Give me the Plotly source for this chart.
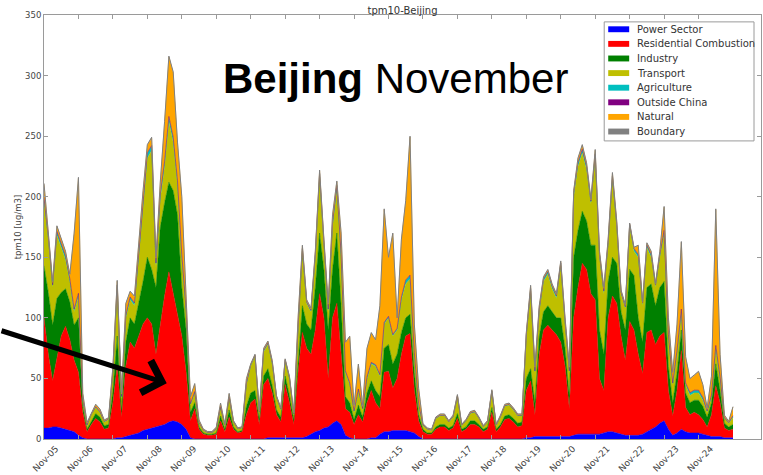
import pandas as pd
import plotly.graph_objects as go

# 3-hourly PM10 source contributions, Beijing, 5-25 November
times = pd.date_range("2015-11-05 00:00", periods=161, freq="3h")

power_sector = [
    9, 9, 10, 10, 9, 8, 7, 6,
    3, 1, 0, 0, 0, 0, 0, 0,
    0, 1, 1, 2, 3, 4, 5, 7,
    8, 9, 10, 11, 12, 14, 15, 14,
    12, 8, 1, 0, 0, 0, 0, 0,
    0, 0, 0, 0, 0, 0, 0, 0,
    0, 0, 0, 0, 1, 1, 1, 1,
    1, 1, 1, 1, 1, 2, 4, 6,
    7, 9, 10, 13, 15, 12, 3, 1,
    0, 0, 0, 0, 1, 1, 4, 6,
    6, 7, 7, 7, 7, 6, 5, 2,
    0, 0, 0, 0, 0, 0, 0, 0,
    0, 0, 0, 0, 0, 0, 0, 0,
    0, 0, 0, 0, 0, 0, 0, 0,
    1, 1, 2, 2, 2, 2, 2, 2,
    2, 2, 2, 3, 4, 4, 4, 4,
    4, 4, 5, 6, 6, 5, 4, 3,
    3, 3, 3, 4, 6, 8, 10, 13,
    15, 8, 3, 5, 8, 6, 5, 5,
    5, 4, 3, 2, 2, 2, 1, 1,
    1,
]
residential = [
    91, 61, 38, 55, 76, 85, 75, 59,
    52, 21, 6, 12, 17, 14, 8, 9,
    30, 59, 17, 58, 77, 71, 80, 88,
    92, 86, 60, 84, 106, 124, 105, 86,
    73, 47, 14, 25, 8, 4, 3, 3,
    4, 15, 6, 18, 8, 5, 6, 20,
    30, 33, 12, 45, 49, 37, 19, 13,
    44, 29, 11, 54, 87, 73, 66, 84,
    113, 91, 40, 87, 97, 58, 22, 21,
    12, 20, 14, 30, 39, 29, 21, 49,
    50, 35, 43, 63, 78, 81, 35, 13,
    6, 4, 4, 8, 10, 10, 7, 9,
    17, 6, 8, 12, 12, 10, 6, 8,
    22, 6, 10, 16, 17, 14, 10, 11,
    39, 47, 18, 68, 88, 92, 88, 84,
    78, 58, 23, 97, 121, 141, 136, 116,
    111, 46, 35, 94, 112, 107, 81, 62,
    94, 87, 67, 50, 82, 82, 68, 72,
    73, 32, 16, 35, 65, 20, 15, 17,
    15, 12, 7, 18, 42, 28, 8, 6,
    7,
]
industry = [
    43, 51, 46, 51, 36, 31, 31, 29,
    45, 5, 2, 3, 4, 4, 3, 3,
    10, 25, 6, 20, 20, 20, 27, 35,
    50, 45, 55, 80, 77, 74, 85, 85,
    40, 35, 7, 5, 2, 1, 1, 1,
    1, 4, 2, 6, 2, 1, 1, 7,
    8, 7, 4, 7, 8, 6, 4, 4,
    7, 6, 4, 10, 22, 20, 20, 35,
    50, 40, 40, 40, 58, 40, 10, 8,
    4, 8, 4, 8, 8, 10, 10, 20,
    22, 20, 20, 18, 15, 16, 15, 5,
    2, 1, 1, 2, 2, 2, 2, 2,
    4, 2, 2, 3, 3, 2, 2, 2,
    4, 2, 2, 3, 3, 3, 3, 3,
    10, 10, 10, 15, 15, 16, 15, 14,
    20, 15, 10, 50, 47, 43, 40, 40,
    45, 40, 30, 30, 32, 33, 20, 25,
    43, 45, 30, 26, 37, 38, 32, 40,
    42, 20, 11, 15, 17, 12, 10, 10,
    12, 11, 8, 10, 18, 10, 4, 3,
    4,
]
transport = [
    54, 44, 31, 52, 37, 24, 17, 11,
    18, 5, 3, 5, 5, 4, 3, 4,
    15, 40, 10, 20, 15, 15, 38, 60,
    82, 98, 17, 23, 30, 50, 40, 25,
    25, 15, 6, 8, 3, 2, 1, 1,
    3, 7, 3, 10, 4, 2, 2, 18,
    22, 28, 6, 20, 20, 18, 10, 6,
    12, 14, 4, 25, 45, 17, 15, 25,
    46, 20, 15, 35, 36, 40, 20, 15,
    6, 12, 6, 12, 14, 20, 17, 20,
    22, 23, 20, 27, 28, 29, 15, 8,
    3, 3, 2, 7, 7, 7, 5, 7,
    14, 3, 5, 6, 7, 5, 2, 4,
    13, 3, 6, 8, 8, 7, 6, 5,
    35, 64, 25, 20, 25, 26, 19, 16,
    43, 20, 20, 50, 53, 48, 42, 34,
    72, 60, 50, 30, 64, 30, 15, 18,
    35, 20, 50, 30, 33, 22, 15, 25,
    40, 25, 15, 17, 15, 7, 6, 6,
    6, 5, 4, 5, 13, 10, 4, 3,
    6,
]
agriculture = [
    2, 2, 2, 3, 3, 3, 2, 2,
    2, 1, 0.5, 0.5, 0.5, 0.5, 0.5, 0.5,
    1, 2, 1, 2, 2, 2, 3, 4,
    4, 4, 3, 4, 4, 4, 4, 3,
    2, 2, 1, 1, 0.5, 0.3, 0.3, 0.3,
    0.5, 0.5, 0.3, 0.5, 0.3, 0.3, 0.3, 1,
    1, 1, 0.5, 1, 1, 1, 0.5, 0.5,
    1, 0.5, 0.5, 2, 2, 1, 1, 2,
    3, 2, 2, 3, 3, 2, 1, 1,
    1, 1, 1, 1, 1, 1, 1, 1,
    1, 1, 1, 2, 3, 3, 1, 1,
    0.5, 0.3, 0.3, 0.3, 0.5, 0.5, 0.3, 0.5,
    0.5, 0.3, 0.3, 0.5, 0.5, 0.3, 0.3, 0.3,
    0.5, 0.3, 0.5, 0.5, 0.5, 0.5, 0.5, 0.5,
    1, 2, 1, 2, 2, 2, 2, 2,
    2, 2, 1, 3, 3, 3, 3, 2,
    3, 2, 2, 2, 3, 2, 1, 1,
    2, 2, 2, 2, 2, 2, 2, 2,
    2, 1, 1, 1, 2, 1, 2, 2,
    2, 2, 1, 1, 2, 1, 0.5, 0.5,
    1,
]
outside_china = [
    0.3, 0.3, 0.3, 0.3, 0.3, 0.3, 0.3, 0.3,
    0.3, 0.2, 0.2, 0.2, 0.2, 0.2, 0.2, 0.2,
    0.2, 0.3, 0.2, 0.3, 0.3, 0.3, 0.3, 0.3,
    0.3, 0.3, 0.3, 0.3, 0.3, 0.3, 0.3, 0.3,
    0.3, 0.3, 0.2, 0.2, 0.2, 0.2, 0.2, 0.2,
    0.2, 0.2, 0.2, 0.2, 0.2, 0.2, 0.2, 0.2,
    0.2, 0.2, 0.2, 0.3, 0.3, 0.3, 0.2, 0.2,
    0.3, 0.2, 0.2, 0.3, 0.3, 0.3, 0.3, 0.3,
    0.3, 0.3, 0.3, 0.3, 0.3, 0.3, 0.3, 0.3,
    0.2, 0.3, 0.2, 0.3, 0.3, 0.3, 0.3, 0.3,
    0.3, 0.3, 0.3, 0.3, 0.3, 0.3, 0.3, 0.2,
    0.2, 0.2, 0.2, 0.2, 0.2, 0.2, 0.2, 0.2,
    0.2, 0.2, 0.2, 0.2, 0.2, 0.2, 0.2, 0.2,
    0.2, 0.2, 0.2, 0.2, 0.2, 0.2, 0.2, 0.2,
    0.3, 0.3, 0.3, 0.3, 0.3, 0.3, 0.3, 0.3,
    0.3, 0.3, 0.3, 0.3, 0.3, 0.3, 0.3, 0.3,
    0.3, 0.3, 0.3, 0.3, 0.3, 0.3, 0.3, 0.3,
    0.3, 0.3, 0.3, 0.3, 0.3, 0.3, 0.3, 0.3,
    0.3, 0.3, 0.3, 0.3, 0.3, 0.3, 0.3, 0.3,
    0.3, 0.3, 0.2, 0.3, 0.3, 0.3, 0.2, 0.2,
    0.2,
]
natural = [
    11, 4, 2, 4, 3, 3, 3, 62,
    95, 4, 1.5, 0.5, 1.5, 1.5, 0.5, 0.5,
    3, 3, 2, 9, 4, 5, 11, 10,
    6, 6, 4, 9, 32, 49, 53, 31,
    47, 12, 5, 6, 1.5, 0.2, 0.2, 0.2,
    0.5, 2.5, 0.2, 2.5, 0.2, 0.2, 0.2, 3,
    0.2, 0.2, 0.5, 1, 1, 1, 0.5, 0.5,
    0.3, 0.5, 0.5, 7, 2, 1, 1, 2,
    2, 2, 4, 6, 3, 17, 23, 38,
    4, 20, 2, 23, 24, 20, 56, 93,
    48, 83, 8, 47, 65, 114, 23, 12,
    0.5, 0.2, 0.2, 0.2, 0.5, 0.5, 0.2, 0.5,
    0.5, 0.2, 0.2, 0.5, 0.5, 0.2, 0.2, 0.2,
    0.5, 0.2, 0.5, 0.5, 0.5, 0.5, 0.5, 0.5,
    1, 2, 3, 2, 1, 1, 1, 1,
    1, 2, 3, 1, 3, 3, 2, 1,
    3, 2, 2, 2, 2, 2, 1, 1,
    0.3, 0.3, 7, 0.3, 1, 2, 0.3, 2,
    19, 13, 8, 21, 55, 21, 11, 12,
    15, 10, 2, 15, 112, 18, 1.5, 0.5,
    7,
]
boundary = [
    0.7, 0.7, 0.7, 0.7, 0.7, 0.7, 0.7, 0.7,
    0.7, 0.6, 0.5, 0.5, 0.5, 0.5, 0.5, 0.5,
    0.5, 0.7, 0.6, 0.7, 0.7, 0.7, 0.7, 0.7,
    0.8, 0.8, 0.7, 0.8, 0.8, 0.8, 0.8, 0.8,
    0.7, 0.7, 0.6, 0.6, 0.5, 0.5, 0.5, 0.5,
    0.5, 0.5, 0.5, 0.5, 0.5, 0.5, 0.5, 0.6,
    0.6, 0.6, 0.5, 0.6, 0.6, 0.6, 0.5, 0.5,
    0.6, 0.5, 0.5, 0.7, 0.7, 0.7, 0.7, 0.7,
    0.7, 0.7, 0.7, 0.7, 0.7, 0.7, 0.6, 0.6,
    0.5, 0.6, 0.5, 0.6, 0.6, 0.6, 0.7, 0.7,
    0.7, 0.7, 0.7, 0.7, 0.7, 0.7, 0.6, 0.6,
    0.5, 0.5, 0.5, 0.5, 0.5, 0.5, 0.5, 0.5,
    0.5, 0.5, 0.5, 0.5, 0.5, 0.5, 0.5, 0.5,
    0.5, 0.5, 0.5, 0.5, 0.5, 0.5, 0.5, 0.5,
    0.6, 0.6, 0.6, 0.7, 0.7, 0.7, 0.7, 0.7,
    0.7, 0.7, 0.6, 0.7, 0.7, 0.7, 0.7, 0.7,
    0.7, 0.7, 0.7, 0.7, 0.7, 0.7, 0.7, 0.7,
    0.7, 0.7, 0.7, 0.7, 0.7, 0.7, 0.7, 0.7,
    0.7, 0.7, 0.6, 0.6, 0.7, 0.6, 0.6, 0.6,
    0.6, 0.6, 0.5, 0.6, 0.7, 0.6, 0.5, 0.5,
    0.5,
]

tick_days = pd.date_range("2015-11-05", "2015-11-24", freq="D")
tick_labels = [d.strftime("%b-%d") for d in tick_days]

series = [
    ("Power Sector", power_sector, "#0000ff"),
    ("Residential Combustion", residential, "#ff0000"),
    ("Industry", industry, "#008000"),
    ("Transport", transport, "#bfbf00"),
    ("Agriculture", agriculture, "#00bfbf"),
    ("Outside China", outside_china, "#800080"),
    ("Natural", natural, "#ffa500"),
    ("Boundary", boundary, "#808080"),
]

fig = go.Figure()
for name, vals, color in series:
    fig.add_trace(go.Scatter(
        x=times, y=vals, name=name, mode="lines", stackgroup="one",
        line=dict(color=color, width=1 if name == "Boundary" else 0.5),
        fillcolor=color, showlegend=False,
    ))

axis_font = dict(family="DejaVu Sans", size=8.5, color="#444")
frame = dict(showline=True, linecolor="#9a9a9a", linewidth=1, mirror="ticks",
             ticks="inside", ticklen=4, tickcolor="#9a9a9a", showgrid=False,
             zeroline=False)

fig.update_xaxes(
    type="date", range=["2015-11-05 00:00", "2015-11-25 19:30"],
    tickvals=tick_days, ticktext=tick_labels, tickangle=-45,
    ticklabelshift=12, tickfont=dict(family="DejaVu Sans", size=9, color="#444"),
    **frame,
)
fig.update_yaxes(
    range=[0, 350], tickvals=[0, 50, 100, 150, 200, 250, 300, 350],
    tickfont=axis_font,
    title=dict(text="tpm10 [ug/m3]", font=axis_font, standoff=2),
    **frame,
)

# plot area in pixels: x 44..762, y 15..446
PX_L, PX_R, PX_T, PX_B = 44, 762, 15, 446


def px_x(px):
    return (px - PX_L) / (PX_R - PX_L)


def px_y(py):
    return (PX_B - py) / (PX_B - PX_T)


fig.update_layout(
    width=763, height=475,
    margin=dict(l=PX_L, r=763 - PX_R, t=PX_T, b=475 - PX_B),
    paper_bgcolor="white", plot_bgcolor="white",
    title=dict(text="tpm10-Beijing", x=0.5, xref="paper", y=1 - 10 / 475,
               yanchor="middle", xanchor="center",
               font=dict(family="DejaVu Sans", size=10, color="#333")),
    showlegend=False,
)

# legend box drawn as shapes + text so rows sit 15 px apart
shapes = [dict(type="rect", xref="paper", yref="paper",
               x0=px_x(605), x1=px_x(755), y0=px_y(143), y1=px_y(22),
               line=dict(color="#9a9a9a", width=1), fillcolor="white", layer="above")]
annotations = []
for i, (name, _, color) in enumerate(series):
    cy = 29.5 + 14.85 * i
    shapes.append(dict(type="rect", xref="paper", yref="paper",
                       x0=px_x(609), x1=px_x(630), y0=px_y(cy + 3), y1=px_y(cy - 3),
                       line=dict(width=0), fillcolor=color, layer="above"))
    annotations.append(dict(text=name, xref="paper", yref="paper",
                            x=px_x(636), y=px_y(cy), xanchor="left", yanchor="middle",
                            showarrow=False,
                            font=dict(family="DejaVu Sans", size=10, color="#333")))
fig.update_layout(shapes=shapes, annotations=annotations)

fig.add_annotation(
    text="<b>Beijing</b> November", xref="paper", yref="paper",
    x=px_x(221), y=px_y(80), xanchor="left", yanchor="middle",
    showarrow=False, font=dict(family="Liberation Sans", size=42, color="black"),
)
fig.add_annotation(
    x=pd.Timestamp("2015-11-08 13:30"), y=46, xref="x", yref="y",
    text="", showarrow=True, arrowhead=4, arrowsize=1.3, arrowwidth=5,
    arrowcolor="black", ax=-167, ay=-53,
)

fig.write_html("out.html")
